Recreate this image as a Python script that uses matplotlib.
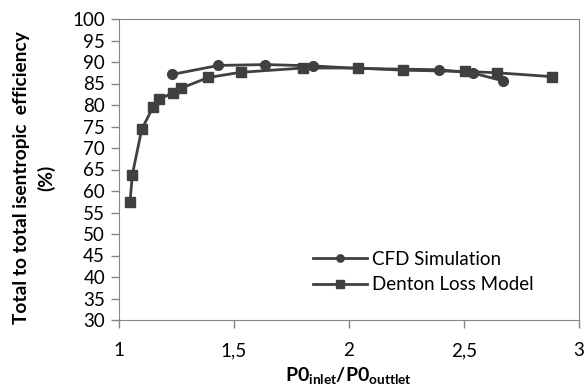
import matplotlib.pyplot as plt

plt.rcParams['font.family'] = ['Lato', 'DejaVu Sans']
plt.rcParams['mathtext.fontset'] = 'custom'
plt.rcParams['mathtext.rm'] = 'Lato'
plt.rcParams['mathtext.bf'] = 'Lato:bold'

# CFD results
cfd_ratio = [1.23, 1.432, 1.636, 1.845, 2.037, 2.393, 2.541, 2.671]
cfd_eff = [87.1, 89.2, 89.4, 89.1, 88.5, 88.2, 87.4, 85.6]

# Denton loss model
den_ratio = [1.048, 1.058, 1.099, 1.149, 1.174, 1.236, 1.27, 1.388, 1.529,
             1.80, 2.037, 2.233, 2.504, 2.642, 2.881]
den_eff = [57.4, 63.8, 74.4, 79.6, 81.3, 82.9, 83.9, 86.4, 87.6,
           88.6, 88.6, 88.1, 87.8, 87.5, 86.6]

col = '#404040'
fs = 13.5
fig = plt.figure(figsize=(5.84, 3.92), dpi=100)
ax = fig.add_axes([119 / 584, 1 - 320 / 392, 460 / 584, 301 / 392])

ax.plot(cfd_ratio, cfd_eff, color=col, lw=2, marker='o', ms=7, label='CFD Simulation')
ax.plot(den_ratio, den_eff, color=col, lw=2, marker='s', ms=7, label='Denton Loss Model')

ax.set_xlim(1, 3)
ax.set_ylim(30, 100)
ax.set_xticks([1, 1.5, 2, 2.5, 3])
ax.set_xticklabels(['1', '1,5', '2', '2,5', '3'])
ax.set_yticks(range(30, 101, 5))
for s in ax.spines.values():
    s.set_color('#868686')
ax.tick_params(colors='#868686', labelcolor='black', labelsize=fs, length=6, width=1)
ax.tick_params(axis='x', pad=10)
ax.tick_params(axis='y', pad=4)

# y label sits a little below the axes centre
fig.text(34 / 584, 1 - 178 / 392, 'Total to total isentropic  efficiency\n(%)',
         rotation=90, ha='center', va='center', multialignment='center',
         fontsize=13.8, fontweight='bold', linespacing=1.45)
ax.set_xlabel(r'$\mathbf{P0_{inlet}/P0_{outtlet}}$', fontsize=fs + 0.5, labelpad=4)

leg = ax.legend(loc='center left', bbox_to_anchor=(313 / 584, 1 - 272 / 392),
                bbox_transform=fig.transFigure, frameon=False, fontsize=fs,
                handlelength=2.9, handletextpad=0.25, markerscale=0.75,
                labelspacing=0.45, borderpad=0, borderaxespad=0)

fig.savefig('out.png', dpi=100)
